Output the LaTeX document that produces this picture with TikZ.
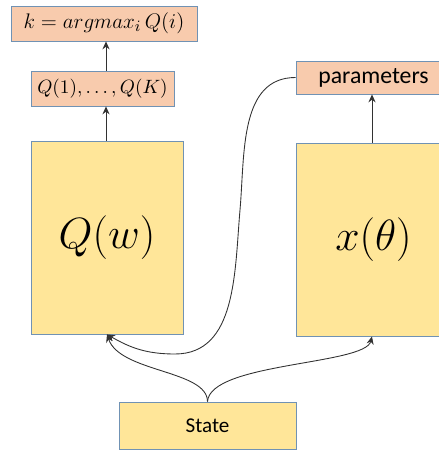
\documentclass[tikz,border=0pt]{standalone}
\usepackage{fontspec}
\newfontfamily\calibri{Carlito}
\definecolor{boxblue}{RGB}{112,146,180}
\definecolor{boxpeach}{RGB}{248,203,173}
\definecolor{boxyellow}{RGB}{255,230,153}
\definecolor{arrgray}{RGB}{50,50,50}
\usetikzlibrary{arrows.meta}

\begin{document}
\begin{tikzpicture}[
  every node/.style={inner sep=0pt},
  peachbox/.style={draw=boxblue,fill=boxpeach,line width=0.45pt,minimum height=0.7cm},
  yellowbox/.style={draw=boxblue,fill=boxyellow,line width=0.45pt},
  arr/.style={-{Stealth[length=4.5pt,width=4pt]},line width=0.5pt,arrgray},
]
  \useasboundingbox (0,0) rectangle (8.78,9.0);

  % output side
  \node[peachbox,minimum width=3.72cm,font=\fontsize{12.5}{15}\selectfont]
    (argmax) at (2.08,8.53) {$k = argmax_i\, Q(i)$};
  \node[peachbox,minimum width=2.86cm,font=\fontsize{11}{13}\selectfont]
    (qlist) at (2.05,7.23) {$Q(1),\ldots,Q(K)$};

  % the two networks
  \node[yellowbox,minimum width=3.04cm,minimum height=3.86cm,font=\fontsize{23}{27}\selectfont]
    (qnet) at (2.14,4.25) {$Q(w)$};
  \node[yellowbox,minimum width=3.1cm,minimum height=3.86cm,font=\fontsize{24}{28}\selectfont]
    (xnet) at (7.47,4.21) {$x(\theta)$};
  \node[peachbox,minimum width=3.1cm,minimum height=0.66cm,font=\calibri\fontsize{13.5}{16}\selectfont]
    (params) at (7.47,7.45) {parameters};

  % input
  \node[yellowbox,minimum width=3.54cm,minimum height=0.94cm,font=\calibri\fontsize{12}{14}\selectfont]
    (state) at (4.15,0.49) {State};

  % straight arrows
  \draw[arr] (qnet.north -| 2.12,0) -- (qlist.south -| 2.12,0);
  \draw[arr] (qlist.north -| 2.12,0) -- (argmax.south -| 2.12,0);
  \draw[arr] (xnet.north -| 7.44,0) -- (params.south -| 7.44,0);

  % curved arrows from the state
  \draw[arr] (state.north) .. controls (4.15,1.6) and (2.4,1.55) .. (qnet.south);
  \draw[arr] (state.north) .. controls (4.2,1.75) and (7.3,1.7) .. (xnet.south -| 7.44,0);

  % parameters fed back into Q(w)
  \draw[arr] (params.west) to[out=180,in=85] (4.8,4.8)
    to[out=-95,in=0] (3.5,1.92) to[out=180,in=-30] (qnet.south);
\end{tikzpicture}
\end{document}
